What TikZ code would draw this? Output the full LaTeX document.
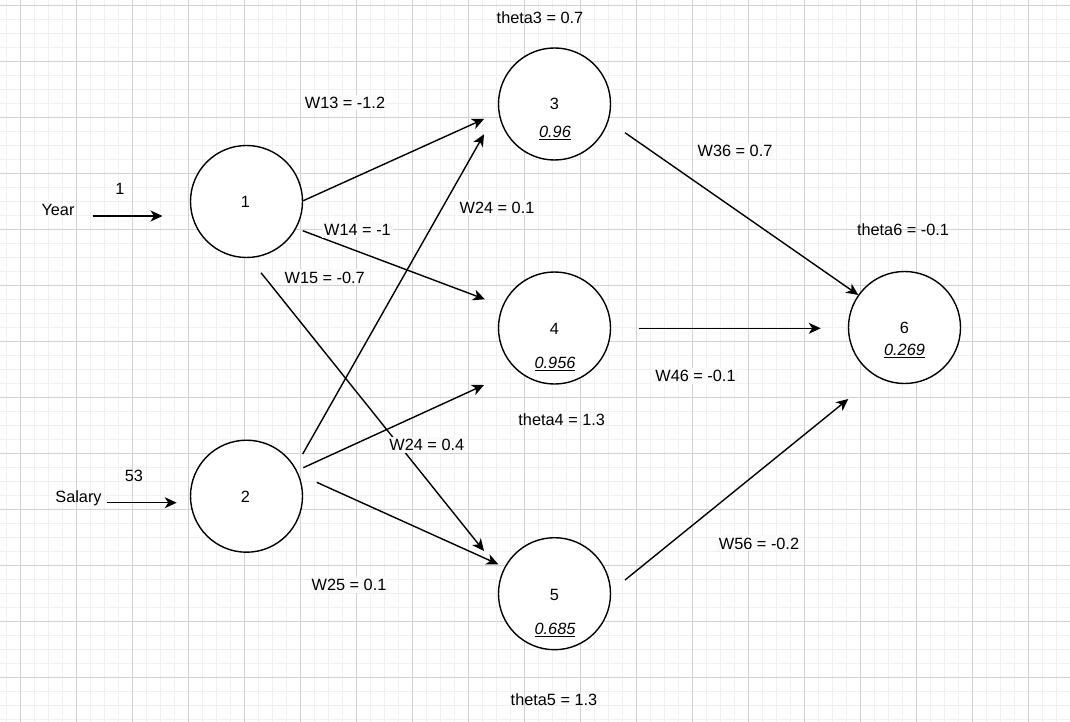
\documentclass[tikz,border=0pt]{standalone}
\usepackage{fontspec}
\setmainfont{Liberation Sans}
\usetikzlibrary{arrows.meta}
\definecolor{gridmajor}{RGB}{210,210,210}
\definecolor{gridminor}{RGB}{240,240,240}
\definecolor{labelbg}{RGB}{250,250,250}
\begin{document}
\begin{tikzpicture}[x=1pt,y=-1pt,
  txt/.style={font=\fontsize{16.3}{19}\selectfont, text height=11.7pt, text depth=0pt, inner sep=2pt},
  wlabel/.style={txt, fill=labelbg},
  neuron/.style={circle, draw=black, line width=1.4pt, minimum size=112pt, inner sep=0pt},
  link/.style={line width=1.4pt, -{Stealth[length=12pt,width=11pt,inset=3.5pt]}},
  val/.style={txt, font=\fontsize{16.3}{19}\selectfont\itshape}
]
\useasboundingbox (0,0) rectangle (1070,722);
\fill[white] (0,0) rectangle (1070,722);

% background grid
\foreach \x in {6.5,20.5,...,1070} \draw[gridminor, line width=0.8pt] (\x,0) -- (\x,722);
\foreach \y in {5.3,19.3,...,722} \draw[gridminor, line width=0.8pt] (0,\y) -- (1070,\y);
\foreach \x in {20.5,76.5,...,1070} \draw[gridmajor, line width=0.9pt] (\x,0) -- (\x,722);
\foreach \y in {5.3,61.3,...,722} \draw[gridmajor, line width=0.9pt] (0,\y) -- (1070,\y);

% neurons
\node[neuron, fill=white] (n1) at (246.5,201.5) {};
\node[neuron, fill=white] (n2) at (246.5,496.2) {};
\node[neuron, fill=white] (n3) at (554.5,104) {};
\node[neuron, fill=white] (n4) at (554.5,328) {};
\node[neuron, fill=white] (n5) at (554.5,593.7) {};
\node[neuron, fill=white] (n6) at (904.5,327.5) {};

% neuron numbers and outputs
\node[txt] (t1) at (245.5,202) {1};
\node[txt] (t2) at (245.5,496.7) {2};
\node[txt] (t3) at (554.5,104) {3};
\node[txt] (t4) at (554.5,329) {4};
\node[txt] (t5) at (554.5,595) {5};
\node[txt] (t6) at (904.5,328) {6};
\node[val] (v3) at (555,132) {\underline{0.96}};
\node[val] (v4) at (555,363) {\underline{0.956}};
\node[val] (v5) at (555,629) {\underline{0.685}};
\node[val] (v6) at (904.5,349.5) {\underline{0.269}};

% inputs
\node[txt] (year) at (58,209.5) {Year};
\node[txt] (yearval) at (120,189) {1};
\node[txt] (salary) at (78.5,496.7) {Salary};
\node[txt] (salval) at (134,475.5) {53};
\coordinate (yin) at (92.5,216);
\coordinate (yout) at (162.5,216);
\coordinate (sin) at (106.7,502.7);
\coordinate (sout) at (176.7,502.7);
\draw[link] (yin) -- (yout);
\draw[link] (sin) -- (sout);

% connector end points
\coordinate (a13) at (303.3,200.7);  \coordinate (b13) at (484,119);
\coordinate (a14) at (302.7,230.7);  \coordinate (b14) at (485,299.3);
\coordinate (a15) at (261,272.7);    \coordinate (b15) at (484,551);
\coordinate (a23) at (302.7,454);    \coordinate (b23) at (484,134.3);
\coordinate (a24) at (303.3,467.7);  \coordinate (b24) at (484,385);
\coordinate (a25) at (316.7,482.3);  \coordinate (b25) at (498.3,564.3);
\coordinate (a36) at (625,132.7);    \coordinate (b36) at (858.3,295);
\coordinate (a46) at (639,328.3);    \coordinate (b46) at (820.7,328.3);
\coordinate (a56) at (625,580);      \coordinate (b56) at (848.3,399);

% weighted connections
\draw[link] (a13) -- (b13);
\draw[link] (a14) -- (b14);
\draw[link] (a15) -- (b15);
\draw[link] (a23) -- (b23);
\draw[link] (a24) -- (b24);
\draw[link] (a25) -- (b25);
\draw[link] (a36) -- (b36);
\draw[link] (a46) -- (b46);
\draw[link] (a56) -- (b56);

% weights
\node[wlabel] (w13) at (345,102.5) {W13 = -1.2};
\node[wlabel] (w24a) at (497,207.5) {W24 = 0.1};
\node[wlabel] (w14) at (357.5,230) {W14 = -1};
\node[wlabel] (w15) at (324.7,277.3) {W15 = -0.7};
\node[wlabel] (w24b) at (426.8,445) {W24 = 0.4};
\node[wlabel] (w25) at (349,585) {W25 = 0.1};
\node[wlabel] (w36) at (735,151) {W36 = 0.7};
\node[wlabel] (w46) at (695.5,375.7) {W46 = -0.1};
\node[wlabel] (w56) at (759,543.3) {W56 = -0.2};

% thresholds
\node[txt] (th3) at (540,18) {theta3 = 0.7};
\node[txt] (th4) at (561.7,419.3) {theta4 = 1.3};
\node[txt] (th5) at (554,699.3) {theta5 = 1.3};
\node[txt] (th6) at (903,230) {theta6 = -0.1};
\end{tikzpicture}
\end{document}
